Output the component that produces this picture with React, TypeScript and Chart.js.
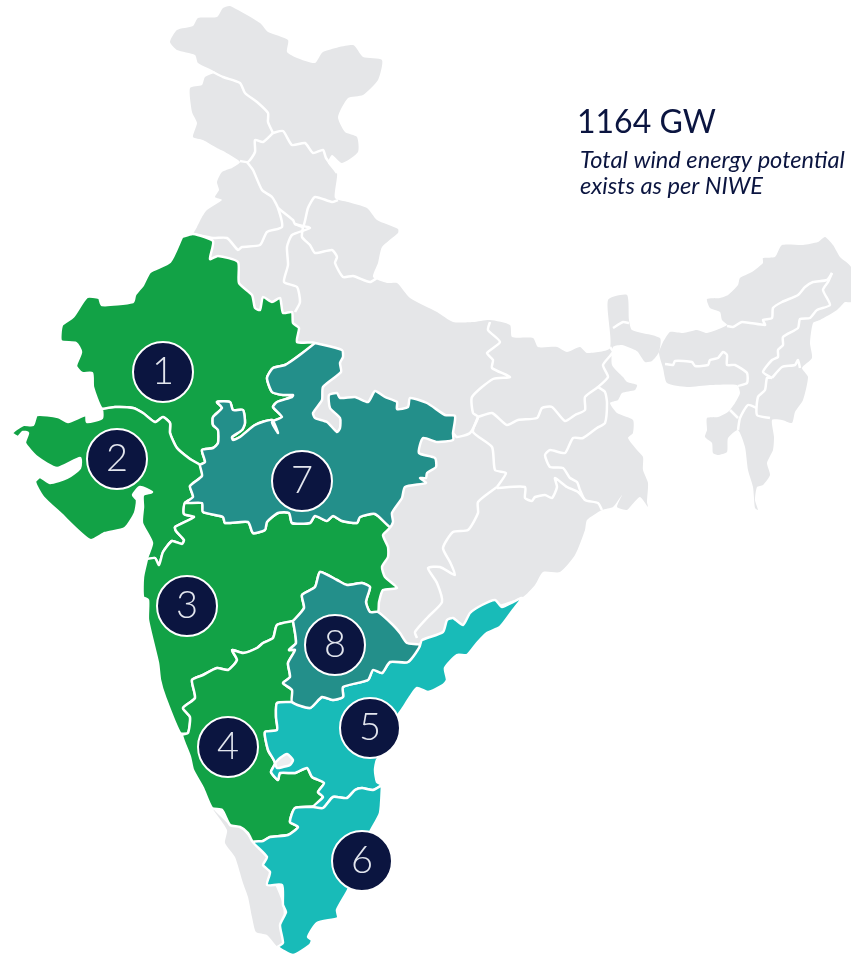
import { useEffect, useRef } from "react";
import { Chart, registerables } from "chart.js";

Chart.register(...registerables);

type P = number[];

const GRAY = "#E5E6E8";
const GREEN = "#12A246";
const TEAL = "#238F8A";
const CYAN = "#18BBB8";
const NAVY = "#0B1540";

const headline = "1164 GW";
const subtitleLines = ["Total wind energy potential", "exists as per NIWE"];
const markerLabels = ["1", "2", "3", "4", "5", "6", "7", "8"];
const markerPoints: P[] = [[163, 372], [117, 459], [187, 606], [228, 747], [370, 728], [362, 861], [302, 481], [335, 645]];

const mainland: P[] = [[193,234],[197,227],[202,217],[207,210],[222,200],[215,197],[219,190],[217,182],[222,172],[232,168],[240,162],[225,152],[217,148],[203,140],[193,137],[197,123],[192,112],[190,88],[202,85],[205,77],[215,72],[198,63],[195,55],[177,50],[170,42],[177,30],[193,26],[198,18],[217,17],[223,8],[230,6],[260,23],[268,32],[288,40],[287,52],[297,58],[315,63],[323,52],[353,45],[363,57],[382,60],[378,80],[363,95],[348,98],[338,117],[345,132],[357,137],[358,152],[342,163],[332,155],[328,163],[337,173],[335,198],[348,202],[367,208],[377,220],[398,229],[398,233],[382,247],[378,263],[373,277],[387,283],[397,283],[410,298],[437,312],[453,322],[473,322],[490,320],[510,325],[512,337],[533,338],[538,347],[557,347],[567,352],[580,347],[587,353],[610,348],[608,300],[627,295],[629,320],[632,330],[660,338],[659,352],[652,361],[645,362],[638,352],[635,350],[622,345],[613,347],[612,365],[623,377],[627,382],[637,385],[635,390],[622,393],[618,400],[610,403],[617,413],[633,420],[633,433],[628,438],[637,450],[643,457],[643,470],[648,483],[647,502],[648,507],[640,497],[630,507],[627,510],[617,507],[622,495],[613,507],[602,510],[587,520],[585,530],[575,555],[560,572],[543,572],[535,585],[523,597],[500,605],[420,650],[350,600],[340,500],[300,400],[200,260]];
const northeast: P[] = [[663,342],[670,332],[683,333],[697,330],[707,333],[727,325],[722,320],[720,312],[710,308],[707,299],[720,298],[728,295],[738,285],[740,278],[752,272],[763,263],[763,258],[775,257],[782,245],[803,245],[818,242],[825,237],[833,245],[840,257],[851,267],[851,302],[845,302],[837,310],[820,320],[813,323],[810,343],[812,358],[802,368],[808,377],[803,400],[795,412],[792,423],[782,420],[772,420],[774,437],[773,450],[767,463],[770,475],[763,485],[757,487],[755,500],[758,510],[755,508],[753,487],[748,470],[745,447],[738,430],[728,438],[727,452],[718,455],[713,453],[712,443],[705,437],[707,430],[707,418],[718,417],[728,412],[735,403],[740,393],[737,385],[710,385],[687,387],[667,383],[663,368],[660,358],[659,352],[663,342]];
const kerala: P[] = [[212,808],[230,825],[240,827],[253,842],[267,857],[270,872],[283,905],[283,943],[278,947],[267,935],[256,932],[252,917],[248,897],[243,883],[235,857],[225,843],[227,830],[212,808]];
const bengaluru: P[] = [[275,763],[280,758],[287,754],[293,760],[290,765],[283,767],[277,768],[275,763]];

const grayBorders: P[][] = [
  [[213,72],[223,77],[240,83],[245,93],[257,102],[268,113],[268,122],[273,133]],
  [[273,133],[283,131],[292,145],[305,143],[313,153],[323,150],[326,158],[337,173]],
  [[273,133],[263,142],[255,140],[255,152],[248,162],[240,161]],
  [[247,162],[253,170],[262,190],[272,197],[278,208],[282,227],[267,232],[260,245],[242,247],[238,250],[227,238],[213,238],[193,234]],
  [[278,208],[293,220],[295,224],[310,228],[292,235],[287,247],[288,265],[284,282],[297,287],[300,302],[295,312]],
  [[295,224],[303,227],[308,208],[315,197],[332,202],[338,200]],
  [[303,227],[302,237],[310,245],[315,253],[332,250],[337,257],[335,263],[343,277],[353,276],[370,282],[377,278]],
  [[490,322],[488,330],[500,342],[487,353],[493,360],[492,368],[510,377],[493,379],[472,397],[473,413],[478,417],[470,433],[457,437],[453,433]],
  [[478,417],[492,413],[507,425],[518,420],[537,418],[542,408],[552,407],[565,421],[575,415],[585,410],[585,397],[598,387],[608,377],[603,365],[613,352],[610,347]],
  [[598,387],[605,392],[607,403],[605,423],[597,428],[583,438],[573,438],[565,453],[550,450],[545,455],[550,467],[563,468],[570,478],[577,482],[580,490],[585,500],[598,503],[602,510]],
  [[497,488],[525,487],[525,498],[532,501],[535,497],[545,495],[552,498],[557,487],[555,478],[567,487],[578,492],[585,500]],
  [[478,417],[473,432],[492,447],[495,470],[506,473],[497,487]],
  [[497,487],[478,502],[478,513],[468,530],[453,532],[443,548],[450,562],[455,575],[440,567],[428,568],[437,583],[442,602],[428,617],[415,632],[417,638]],
  [[613,328],[623,322],[629,323]],
  [[727,326],[733,327],[742,322],[765,325],[763,320],[772,318],[773,308],[782,302],[798,295],[805,287],[813,282],[827,280],[832,273]],
  [[832,273],[828,282],[823,290],[830,305],[817,310],[810,318],[800,319],[798,328],[783,337],[783,345],[778,350],[778,357],[772,360],[763,372],[772,378]],
  [[772,378],[782,367],[795,365],[798,360],[800,368]],
  [[772,378],[767,378],[765,390],[758,397],[757,415],[770,418]],
  [[757,408],[748,405],[740,418],[738,430]],
  [[665,364],[673,365],[675,361],[692,362],[695,366],[708,365],[710,360],[718,358],[723,352],[727,355],[727,365],[735,365],[747,373],[747,383],[738,386]],
  [[730,410],[738,418]],
];

const rajasthan: P[] = [[182,237],[193,234],[213,241],[210,259],[218,256],[238,262],[239,283],[252,295],[255,308],[260,310],[263,297],[272,302],[280,298],[283,313],[292,312],[293,323],[299,328],[297,342],[315,343],[297,357],[285,365],[273,368],[267,378],[272,392],[283,395],[293,395],[292,397],[277,402],[273,407],[282,417],[272,422],[278,433],[272,420],[255,425],[240,437],[233,440],[232,437],[242,430],[245,423],[243,410],[233,410],[230,402],[217,402],[222,408],[213,417],[213,425],[218,430],[218,443],[213,448],[202,450],[205,462],[200,465],[190,459],[177,448],[170,433],[170,423],[163,417],[155,422],[143,413],[133,408],[115,407],[102,409],[93,387],[92,373],[82,373],[76,366],[81,352],[76,343],[61,341],[62,325],[73,317],[87,297],[99,298],[102,305],[133,302],[135,295],[143,285],[150,272],[170,262],[182,237]];
const gujarat: P[] = [[102,409],[115,407],[133,408],[143,413],[155,422],[163,417],[170,423],[170,433],[177,448],[190,459],[200,465],[202,476],[190,486],[193,497],[185,503],[184,514],[194,517],[175,527],[176,531],[184,540],[182,544],[172,541],[163,552],[159,565],[155,558],[147,559],[152,543],[142,523],[143,507],[143,495],[152,492],[140,487],[133,495],[137,500],[135,513],[125,528],[105,533],[90,540],[60,513],[43,497],[35,482],[40,477],[50,483],[67,478],[80,468],[80,458],[57,468],[37,457],[25,443],[28,433],[23,432],[18,437],[12,433],[23,425],[33,425],[37,415],[58,417],[68,422],[86,415],[87,422],[102,418],[102,409]];
const maharashtra: P[] = [[147,559],[155,558],[159,565],[163,552],[172,541],[182,544],[184,540],[176,531],[175,527],[194,517],[184,514],[185,503],[202,503],[203,512],[223,517],[225,523],[248,522],[253,533],[265,530],[267,522],[278,513],[289,513],[292,523],[310,523],[315,516],[327,521],[333,516],[342,521],[357,523],[360,517],[375,514],[390,527],[383,535],[388,547],[388,557],[382,567],[385,577],[397,588],[383,590],[379,602],[378,612],[370,612],[366,602],[370,587],[362,583],[347,585],[337,580],[320,572],[315,587],[302,595],[304,608],[293,621],[277,625],[273,638],[263,643],[257,648],[243,653],[232,650],[237,660],[228,670],[217,668],[203,675],[192,680],[195,698],[183,708],[190,717],[188,733],[180,733],[165,697],[160,680],[158,663],[148,620],[148,600],[143,597],[143,577],[147,559]];
const karnataka: P[] = [[293,621],[296,643],[289,650],[295,650],[288,663],[290,677],[283,683],[292,690],[292,702],[277,703],[276,717],[277,730],[265,732],[268,750],[275,763],[271,772],[278,780],[280,773],[295,773],[307,768],[312,777],[324,783],[318,792],[323,797],[315,806],[295,808],[290,822],[298,827],[288,835],[270,837],[263,841],[253,842],[248,833],[240,827],[230,825],[222,810],[212,808],[203,788],[193,770],[190,757],[182,735],[188,733],[190,717],[183,708],[195,698],[192,680],[203,675],[217,668],[228,670],[237,660],[232,650],[243,653],[257,648],[263,643],[273,638],[277,625],[293,621]];
const andhra: P[] = [[292,702],[310,708],[322,697],[333,700],[343,697],[343,687],[368,680],[373,670],[382,673],[390,662],[408,662],[420,645],[422,640],[443,632],[447,620],[453,618],[463,625],[470,613],[482,605],[495,600],[502,607],[513,602],[522,598],[513,610],[500,627],[487,633],[477,643],[467,655],[457,655],[445,668],[447,680],[443,685],[428,692],[417,688],[410,697],[403,708],[395,720],[390,745],[377,760],[375,770],[377,782],[382,785],[373,790],[362,788],[355,790],[347,798],[333,797],[323,808],[313,807],[323,797],[318,792],[324,783],[312,777],[307,768],[295,773],[280,773],[278,780],[271,772],[275,763],[268,750],[265,732],[277,730],[276,717],[277,703],[292,702]];
const tamilNadu: P[] = [[382,785],[373,790],[362,788],[355,790],[347,798],[333,797],[323,808],[313,807],[295,808],[290,822],[298,827],[288,835],[270,837],[263,841],[253,842],[267,857],[263,865],[270,872],[267,885],[282,885],[283,905],[286,912],[280,925],[283,943],[278,947],[293,955],[310,945],[312,940],[308,937],[317,923],[338,918],[337,910],[348,890],[355,870],[365,845],[370,832],[380,813],[382,785]];
const madhyaPradesh: P[] = [[315,343],[342,350],[343,357],[340,363],[341,372],[323,387],[322,400],[313,413],[315,418],[327,422],[337,432],[340,428],[340,418],[330,408],[329,395],[337,393],[340,398],[355,397],[368,402],[375,391],[385,397],[397,402],[397,409],[408,407],[410,398],[427,403],[445,415],[455,416],[453,433],[453,440],[437,442],[423,438],[419,453],[435,458],[436,467],[427,473],[426,478],[420,478],[426,483],[405,487],[402,498],[392,513],[393,522],[390,527],[375,514],[360,517],[357,523],[342,521],[333,516],[327,521],[315,516],[310,523],[292,523],[289,513],[278,513],[267,522],[265,530],[253,533],[248,522],[225,523],[223,517],[203,512],[202,503],[185,503],[193,497],[190,486],[202,476],[200,465],[205,462],[202,450],[213,448],[218,443],[218,430],[213,425],[213,417],[222,408],[217,402],[230,402],[233,410],[243,410],[245,423],[242,430],[232,437],[233,440],[240,437],[255,425],[272,420],[278,433],[272,422],[282,417],[273,407],[277,402],[292,397],[293,395],[283,395],[272,392],[267,378],[273,368],[285,365],[297,357],[315,343]];
const telangana: P[] = [[293,621],[304,608],[302,595],[315,587],[320,572],[337,580],[347,585],[362,583],[370,587],[366,602],[370,612],[378,612],[393,625],[400,633],[407,643],[420,645],[408,662],[390,662],[382,673],[373,670],[368,680],[343,687],[343,697],[333,700],[322,697],[310,708],[292,702],[292,690],[283,683],[290,677],[288,663],[295,650],[289,650],[296,643],[293,621]];

const toXY = (pts: P[]) => pts.map(([x, y]) => ({ x, y }));

const region = (pts: P[], color: string, order: number) => ({
  data: toXY(pts),
  showLine: true,
  fill: "shape",
  backgroundColor: color,
  borderColor: "#FFFFFF",
  borderWidth: 2.5,
  borderJoinStyle: "round",
  tension: 0.2,
  pointRadius: 0,
  order,
});

const textPlugin = {
  id: "mapText",
  afterDatasetsDraw(chart: any) {
    const { ctx, scales } = chart;
    ctx.save();
    ctx.textAlign = "center";
    ctx.textBaseline = "middle";
    ctx.fillStyle = "#E3E6EE";
    ctx.font = "300 38px Lato, sans-serif";
    markerLabels.forEach((label, i) => {
      const [x, y] = markerPoints[i];
      ctx.fillText(label, scales.x.getPixelForValue(x), scales.y.getPixelForValue(y));
    });
    ctx.textAlign = "left";
    ctx.textBaseline = "alphabetic";
    ctx.fillStyle = NAVY;
    ctx.font = "400 32px Lato, sans-serif";
    ctx.fillText(headline, 577, 133);
    ctx.font = "italic 400 23.6px Lato, sans-serif";
    ctx.fillText(subtitleLines[0], 580, 168);
    ctx.fillText(subtitleLines[1], 580, 194);
    ctx.restore();
  },
};

export default function App() {
  const ref = useRef<HTMLCanvasElement>(null);
  useEffect(() => {
    if (!ref.current) return;
    const datasets: any[] = [
      {
        data: toXY(markerPoints),
        showLine: false,
        pointRadius: 30,
        pointBackgroundColor: NAVY,
        pointBorderColor: "#FFFFFF",
        pointBorderWidth: 2,
        order: 0,
      },
      region(bengaluru, "#ECEDEF", 1),
      region(telangana, TEAL, 2),
      region(madhyaPradesh, TEAL, 3),
      region(tamilNadu, CYAN, 4),
      region(andhra, CYAN, 5),
      region(karnataka, GREEN, 6),
      region(maharashtra, GREEN, 7),
      region(gujarat, GREEN, 8),
      region(rajasthan, GREEN, 9),
      ...grayBorders.map((line) => ({
        data: toXY(line),
        showLine: true,
        fill: false,
        borderColor: "#FFFFFF",
        borderWidth: 2.5,
        borderJoinStyle: "round",
        tension: 0.2,
        pointRadius: 0,
        order: 10,
      })),
      ...[mainland, northeast, kerala].map((pts) => ({
        data: toXY(pts),
        showLine: true,
        fill: "shape",
        backgroundColor: GRAY,
        borderColor: GRAY,
        borderWidth: 0,
        tension: 0.2,
        pointRadius: 0,
        order: 20,
      })),
    ];
    const chart = new Chart(ref.current, {
      type: "scatter",
      data: { datasets },
      options: {
        animation: false,
        responsive: false,
        devicePixelRatio: 1,
        layout: { padding: 0, autoPadding: false },
        plugins: { legend: { display: false }, tooltip: { enabled: false }, title: { display: false } },
        scales: {
          x: { type: "linear", min: 0, max: 851, display: false },
          y: { type: "linear", min: 0, max: 955, reverse: true, display: false },
        },
      },
      plugins: [textPlugin],
    } as any);
    return () => chart.destroy();
  }, []);
  return (
    <canvas
      ref={ref}
      width={851}
      height={955}
      style={{ position: "absolute", left: 0, top: 0, display: "block", width: 851, height: 955 }}
    />
  );
}
